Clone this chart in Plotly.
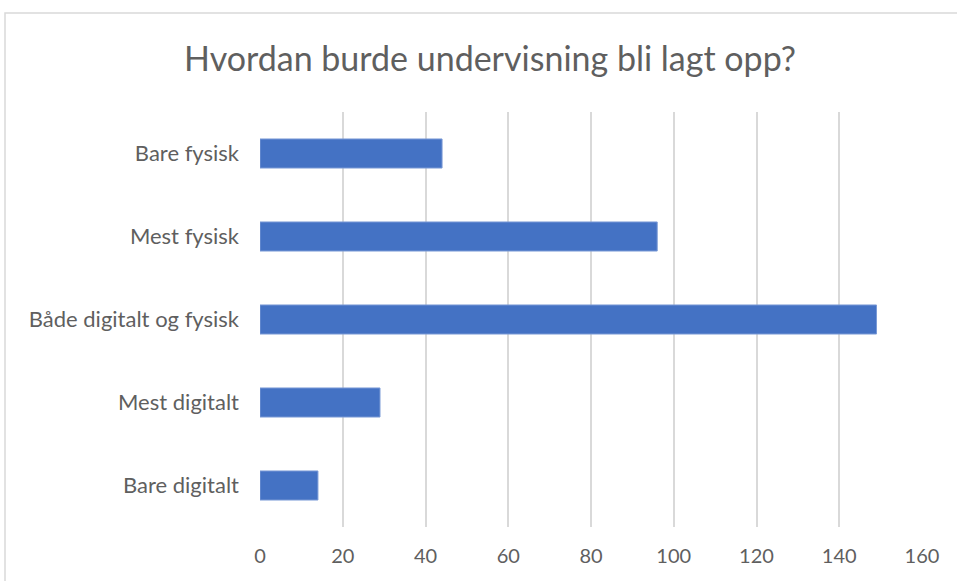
import plotly.graph_objects as go

categories = ["Bare digitalt", "Mest digitalt", "Både digitalt og fysisk", "Mest fysisk", "Bare fysisk"]
values = [14, 29, 149, 96, 44]
tick_vals = [0, 20, 40, 60, 80, 100, 120, 140, 160]

W, H = 957, 581
ml, mr, mt, mb = 260, 35, 112, 54

fig = go.Figure(go.Bar(
    y=categories, x=values, orientation="h",
    marker=dict(color="#4472C4", line=dict(color="#7a9ad6", width=1)),
    hoverinfo="skip",
))

fig.update_layout(
    width=W, height=H,
    margin=dict(l=ml, r=mr, t=mt, b=mb, pad=0),
    paper_bgcolor="white", plot_bgcolor="white",
    bargap=0.65,
    showlegend=False,
    font=dict(family="Lato, Open Sans, sans-serif", color="#5f5f5f"),
    title=dict(text="Hvordan burde undervisning bli lagt opp?",
               x=490 / W, xref="container", xanchor="center",
               y=1 - 59 / H, yref="container", yanchor="middle",
               font=dict(size=34, color="#5f5f5f", family="Lato, Open Sans, sans-serif")),
    xaxis=dict(range=[0, 160], tickvals=tick_vals, ticktext=[str(v) for v in tick_vals],
               showgrid=True, gridcolor="#d9d9d9", gridwidth=1.5,
               zeroline=False, showline=False, ticks="",
               tickfont=dict(size=20, color="#5f5f5f"),
               ticklabelstandoff=15, fixedrange=True),
    yaxis=dict(categoryorder="array", categoryarray=categories,
               showgrid=False, zeroline=False, showline=False, ticks="",
               tickfont=dict(size=22, color="#5f5f5f"),
               ticklabelstandoff=20, fixedrange=True),
)

pw = W - ml - mr
ph = H - mt - mb
fig.add_shape(type="rect", xref="paper", yref="paper",
              x0=(5 - ml) / pw, x1=(W + 5 - ml) / pw,
              y0=-(H + 5 - mt - ph) / ph, y1=1 + (mt - 13) / ph,
              line=dict(color="#d9d9d9", width=1.5), fillcolor="rgba(0,0,0,0)", layer="below")

fig.write_html("out.html", config={"displayModeBar": False},
               post_script="document.body.style.margin='0';")
